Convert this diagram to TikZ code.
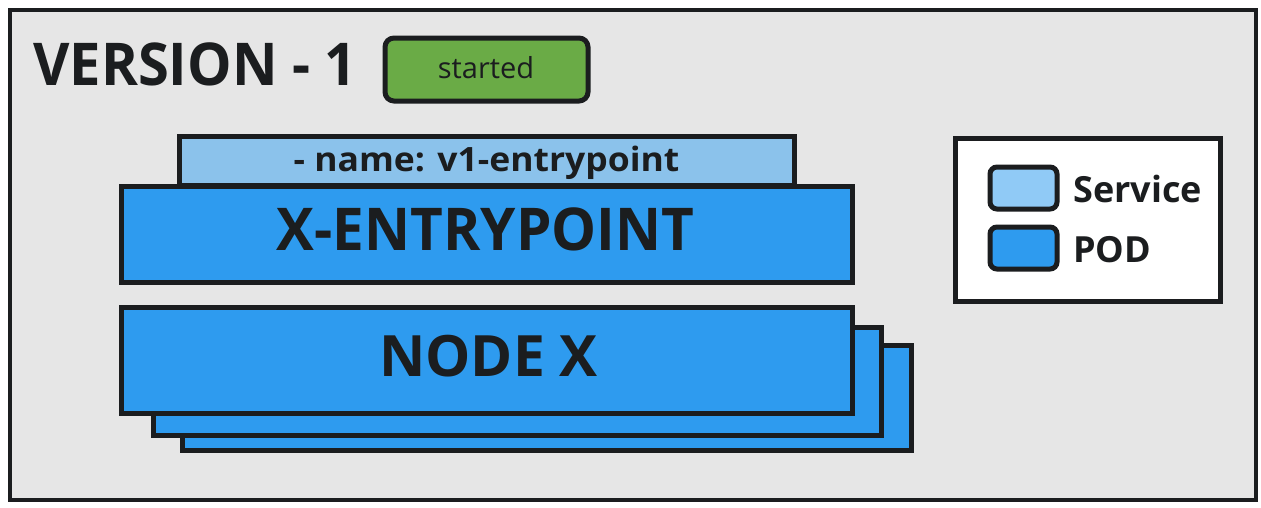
\documentclass[tikz,border=0pt]{standalone}
\usepackage{fontspec}
\setmainfont{Open Sans}
\definecolor{frame}{HTML}{1B1D1F}
\definecolor{bggray}{HTML}{E6E6E6}
\definecolor{pod}{HTML}{2E9BEF}
\definecolor{svcbar}{HTML}{8BC2EB}
\definecolor{svclegend}{HTML}{90CAF6}
\definecolor{startg}{HTML}{6AAB46}
\begin{document}
\begin{tikzpicture}[x=1pt,y=-1pt,
  box/.style={draw=frame,line width=5pt},
  swatch/.style={draw=frame,line width=5pt,rounded corners=7pt},
  lbl/.style={inner sep=0pt,text=frame}]
\useasboundingbox[fill=white] (0,0) rectangle (1261,507);
% outer frame
\draw[box,fill=bggray,line width=4pt] (10,10) rectangle (1256,500);
\node[lbl,anchor=base west,font=\bfseries\fontsize{59}{59}\selectfont] (title) at (33,85) {\scalebox{0.95}[1]{VERSION - 1}};
% started badge
\draw[swatch,fill=startg,rounded corners=9pt] (385,38) rectangle (588,101);
\node[lbl,anchor=base,font=\fontsize{29}{29}\selectfont] (started) at (486,78) {started};
% service bar
\draw[box,fill=svcbar] (179,136) rectangle (794,185);
\node[lbl,anchor=base,font=\bfseries\fontsize{33.5}{33.5}\selectfont] (svc) at (486.5,171) {\scalebox{1.06}[1]{- name: v1-entrypoint}};
% x-entrypoint pod
\draw[box,fill=pod] (121,186) rectangle (852,282);
\node[lbl,anchor=base,font=\bfseries\fontsize{59}{59}\selectfont] (xep) at (485.5,250) {\scalebox{0.96}[1]{X-ENTRYPOINT}};
% node stack
\draw[box,fill=pod] (182,345) rectangle (911,450);
\draw[box,fill=pod] (153,327) rectangle (881,435);
\draw[box,fill=pod] (121,307) rectangle (852,413);
\node[lbl,anchor=base,font=\bfseries\fontsize{57}{57}\selectfont] (nodex) at (488.5,376) {NODE X};
% legend
\draw[box,fill=white] (955,138) rectangle (1220,301);
\draw[swatch,fill=svclegend] (990,167) rectangle (1057,209);
\draw[swatch,fill=pod] (990,227) rectangle (1057,269);
\node[lbl,anchor=base west,font=\bfseries\fontsize{36}{36}\selectfont] (lsvc) at (1073,202) {Service};
\node[lbl,anchor=base west,font=\bfseries\fontsize{36}{36}\selectfont] (lpod) at (1073,262) {POD};
\end{tikzpicture}
\end{document}
